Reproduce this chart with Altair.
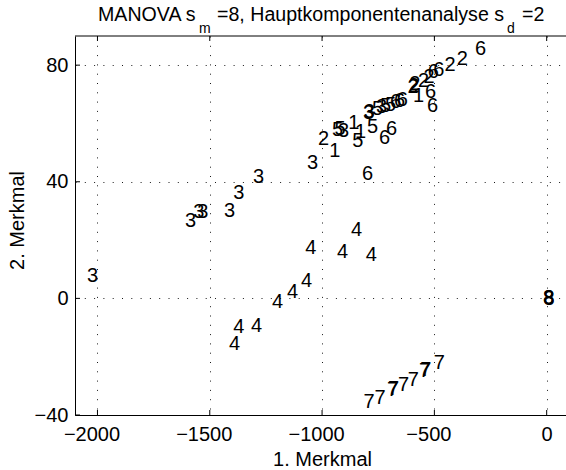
import altair as alt
import pandas as pd

# ---- data ----
x_ticks = [-2000, -1500, -1000, -500, 0]
y_ticks = [-40, 0, 40, 80]

c1_x = [-968, -884, -853, -595]
c1_y = [50.5, 60.3, 57.0, 69.3]
c2_x = [-1018, -620, -616, -612, -573, -548, -455, -400]
c2_y = [54.6, 72.5, 73.0, 73.4, 74.5, 76.0, 80.0, 82.0]
c3_x = [-2047, -1610, -1574, -1556, -1437, -1396, -1307, -1067, -929, -818, -815, -760]
c3_y = [7.8, 26.4, 29.7, 29.7, 30.0, 36.2, 41.6, 46.6, 57.3, 63.5, 63.8, 65.6]
c4_x = [-1414, -1396, -1316, -1223, -1156, -1094, -1075, -934, -871, -805]
c4_y = [-15.8, -9.9, -9.5, -1.3, 2.1, 5.9, 17.3, 16.0, 23.3, 15.0]
c5_x = [-956, -945, -866, -800, -778, -742, -720]
c5_y = [57.9, 58.2, 53.9, 58.9, 64.9, 65.9, 66.3]
c6_x = [-822, -746, -715, -698, -680, -667, -542, -533, -530, -505, -319]
c6_y = [42.8, 55.0, 58.2, 67.3, 67.6, 68.0, 70.9, 66.1, 77.5, 78.5, 85.5]
c7_x = [-816, -767, -711, -706, -662, -618, -568, -563, -503]
c7_y = [-35.7, -34.0, -31.4, -31.0, -29.7, -28.0, -24.9, -24.5, -22.2]
c8_x = [-16, -15, -14]
c8_y = [0.0, 0.2, -0.2]

classes = [("1", c1_x, c1_y), ("2", c2_x, c2_y), ("3", c3_x, c3_y), ("4", c4_x, c4_y),
           ("5", c5_x, c5_y), ("6", c6_x, c6_y), ("7", c7_x, c7_y), ("8", c8_x, c8_y)]
rows = []
for lab, xs, ys in classes:
    for a, b in zip(xs, ys):
        rows.append({"m1": a, "m2": b, "lab": lab})
df = pd.DataFrame(rows)

W, H = 491, 379
FONT = "Liberation Sans"
xscale = alt.Scale(domain=[-2100, 86], nice=False, zero=False)
yscale = alt.Scale(domain=[-40, 90], nice=False, zero=False)

x_axis = alt.Axis(
    values=x_ticks, format="d", title="1. Merkmal", grid=True, labelFlush=False,
    labelOverlap=False, labelPadding=9,
    labelOffset=alt.condition("datum.value < 0", alt.value(-6), alt.value(0)),
    titleX=247, titleY=50, titleBaseline="alphabetic", titleAlign="center")
y_axis = alt.Axis(
    values=y_ticks, format="d", title="2. Merkmal", grid=True, labelFlush=False,
    labelOverlap=False, labelPadding=7,
    titleX=-52, titleY=184, titleBaseline="alphabetic", titleAlign="center")

pts = alt.Chart(df).mark_text(
    align="left", baseline="middle", fontSize=20, font=FONT, color="black"
).encode(
    x=alt.X("m1:Q", scale=xscale, axis=x_axis),
    y=alt.Y("m2:Q", scale=yscale, axis=y_axis),
    text="lab:N",
)

xt = pd.DataFrame({"m1": x_ticks})
yt = pd.DataFrame({"m2": y_ticks})
xtick_b = alt.Chart(xt).mark_rule(color="black", strokeWidth=1).encode(
    x=alt.X("m1:Q", scale=xscale, axis=x_axis), y=alt.value(H), y2=alt.value(H - 5))
xtick_t = alt.Chart(xt).mark_rule(color="black", strokeWidth=1).encode(
    x=alt.X("m1:Q", scale=xscale, axis=x_axis), y=alt.value(0), y2=alt.value(5))
ytick_l = alt.Chart(yt).mark_rule(color="black", strokeWidth=1).encode(
    y=alt.Y("m2:Q", scale=yscale, axis=y_axis), x=alt.value(0), x2=alt.value(5))

one = pd.DataFrame({"k": [0]})
top_border = alt.Chart(one).mark_rule(color="black", strokeWidth=1).encode(
    x=alt.value(0), x2=alt.value(W), y=alt.value(0))

def tseg(txt, x, y, size):
    return alt.Chart(one).mark_text(
        align="left", baseline="alphabetic", fontSize=size, font=FONT, color="black"
    ).encode(x=alt.value(x), y=alt.value(y), text=alt.value(txt))

title_layers = [
    tseg("MANOVA s", 23, -15, 19.6),
    tseg("m", 124, -3, 14),
    tseg("=8, Hauptkomponentenanalyse s", 142, -15, 19.6),
    tseg("d", 432, -3, 14),
    tseg("=2", 447, -15, 19.6),
]

chart = alt.layer(pts, xtick_b, xtick_t, ytick_l, top_border, *title_layers).properties(
    width=W, height=H,
    autosize=alt.AutoSizeParams(type="none"),
    padding={"left": 75, "top": 36, "right": 0, "bottom": 55},
).configure_view(stroke=None).configure_axis(
    domainColor="black", domainWidth=1, tickSize=0,
    labelFont=FONT, labelFontSize=20, labelColor="black",
    titleFont=FONT, titleFontSize=20, titleFontWeight="normal", titleColor="black",
    gridColor="black", gridDash=[1, 8.3], gridOpacity=0.9, gridWidth=1,
)

chart.save("out.html", embed_options={"renderer": "svg", "actions": False})
